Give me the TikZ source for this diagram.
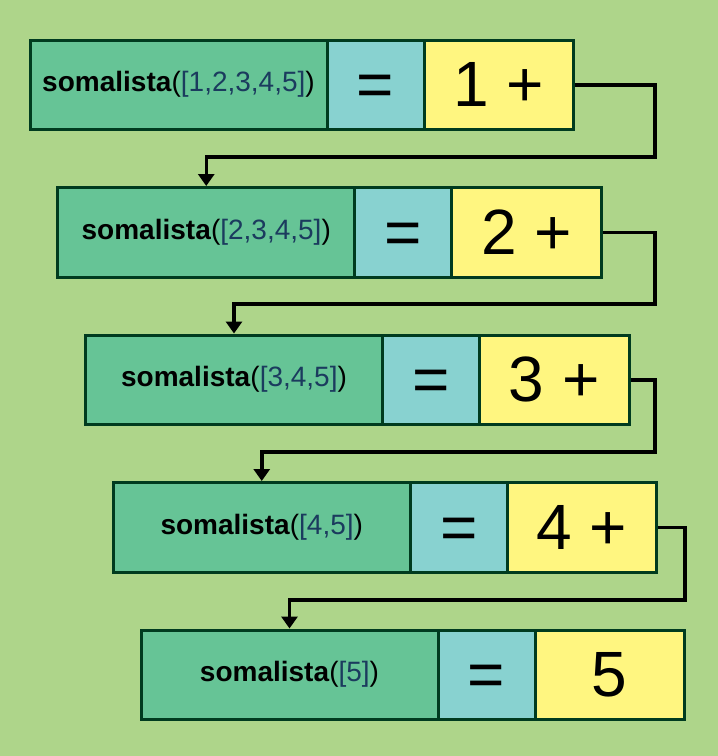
\documentclass[tikz,border=0pt]{standalone}
\usepackage{fontspec}
\setmainfont{Liberation Sans}
\usetikzlibrary{arrows.meta}
\definecolor{bg}{HTML}{AED58A}
\definecolor{gbox}{HTML}{66C496}
\definecolor{bbox}{HTML}{88D2D0}
\definecolor{ybox}{HTML}{FFF680}
\definecolor{edgec}{HTML}{003B1F}
\definecolor{argc}{HTML}{1B3B5E}
\tikzset{
  cell/.style={draw=edgec, line width=3pt, inner sep=0pt, anchor=north west,
    minimum height=89.5pt, text=black},
  conn/.style={draw=black, line width=3.5pt, line join=miter,
    -{Triangle[length=12pt,width=16pt]}},
}
\newcommand{\somarow}[5]{%
  \node[cell,fill=gbox,minimum width=297pt] (g#1) at (#2,#3)
    {\fontsize{28}{32}\selectfont\textbf{somalista}(\textcolor{argc}{[#4]})};
  \node[cell,fill=bbox,minimum width=97pt] (b#1) at (#2+297,#3)
    {\fontsize{64}{70}\selectfont\vphantom{1}=};
  \node[cell,fill=ybox,minimum width=149.5pt] (y#1) at (#2+394,#3)
    {\fontsize{64}{70}\selectfont #5};
}
\begin{document}
\begin{tikzpicture}[x=1pt,y=-1pt]
\fill[bg] (0,0) rectangle (718,756);
\useasboundingbox (0,0) rectangle (718,756);
\somarow{1}{28.5}{38.5}{1,2,3,4,5}{1 +}
\somarow{2}{56.25}{186}{2,3,4,5}{2 +}
\somarow{3}{84}{333.5}{3,4,5}{3 +}
\somarow{4}{111.75}{481}{4,5}{4 +}
\somarow{5}{139.5}{628.5}{5}{5}
\coordinate (c1) at (655,157);
\coordinate (c2) at (655,304);
\coordinate (c3) at (655,452);
\coordinate (c4) at (685,600);
\draw[conn] (y1.east) -| (c1) -| (g2.north);
\draw[conn] (y2.east) -| (c2) -| (g3.north);
\draw[conn] (y3.east) -| (c3) -| (g4.north);
\draw[conn] (y4.east) -| (c4) -| (g5.north);
\end{tikzpicture}
\end{document}
